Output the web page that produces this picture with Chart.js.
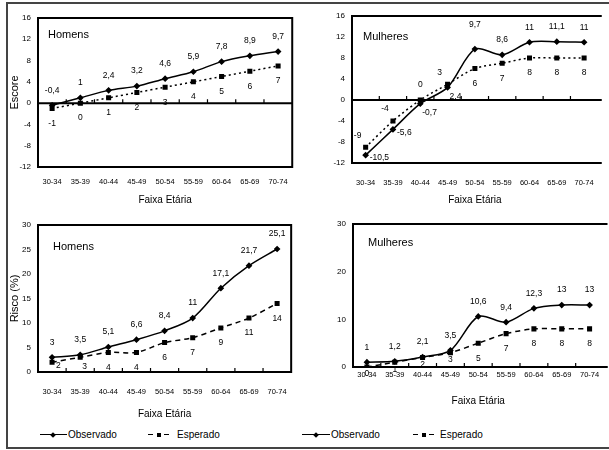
<!DOCTYPE html>
<html><head><meta charset="utf-8">
<script src="https://cdn.jsdelivr.net/npm/chart.js@4/dist/chart.umd.min.js"></script>
<style>
html,body{margin:0;padding:0;background:#fff;width:609px;height:450px;overflow:hidden;
 font-family:"Liberation Sans Narrow","Liberation Sans",Arial,sans-serif;}
#frame{position:absolute;left:6px;top:2px;width:603px;height:447px;box-sizing:border-box;border:2px solid #444;border-right:none;}
.panel{position:absolute;}
.ln{position:absolute;height:0;border-top:1.5px solid #000;}
.mk{position:absolute;width:4px;height:4px;background:#000;}
.lt{position:absolute;font-size:10px;line-height:14px;color:#000;white-space:nowrap;}
</style></head>
<body>
<div id="frame"></div>
<div class="panel" id="p1" style="left:6px;top:4px;width:292px;height:206px"><canvas id="c1"></canvas></div>
<div class="panel" id="p2" style="left:305px;top:4px;width:304px;height:206px"><canvas id="c2"></canvas></div>
<div class="panel" id="p3" style="left:6px;top:212px;width:296px;height:212px"><canvas id="c3"></canvas></div>
<div class="panel" id="p4" style="left:305px;top:212px;width:304px;height:212px"><canvas id="c4"></canvas></div>

<div class="ln" style="left:40px;top:434px;width:27px"></div>
<div class="mk" style="left:51px;top:433px;transform:rotate(45deg)"></div>
<div class="lt" style="left:68px;top:428px">Observado</div>
<div class="ln" style="left:148px;top:434px;width:5px"></div>
<div class="mk" style="left:157px;top:433px"></div>
<div class="ln" style="left:164px;top:434px;width:5px"></div>
<div class="lt" style="left:177px;top:428px">Esperado</div>

<div class="ln" style="left:302px;top:434px;width:28px"></div>
<div class="mk" style="left:314px;top:433px;transform:rotate(45deg)"></div>
<div class="lt" style="left:331px;top:428px">Observado</div>
<div class="ln" style="left:413px;top:434px;width:5px"></div>
<div class="mk" style="left:422px;top:433px"></div>
<div class="ln" style="left:429px;top:434px;width:5px"></div>
<div class="lt" style="left:440px;top:428px">Esperado</div>

<script>
// ---- data ----
const ageGroups = ['30-34','35-39','40-44','45-49','50-54','55-59','60-64','65-69','70-74'];
const homensEscoreObs   = [-0.4, 1, 2.4, 3.2, 4.6, 5.9, 7.8, 8.9, 9.7];
const homensEscoreEsp   = [-1, 0, 1, 2, 3, 4, 5, 6, 7];
const mulheresEscoreObs = [-10.5, -5.6, -0.7, 2.4, 9.7, 8.6, 11, 11.1, 11];
const mulheresEscoreEsp = [-9, -4, 0, 3, 6, 7, 8, 8, 8];
const homensRiscoObs    = [3, 3.5, 5.1, 6.6, 8.4, 11, 17.1, 21.7, 25.1];
const homensRiscoEsp    = [2, 3, 4, 4, 6, 7, 9, 11, 14];
const mulheresRiscoObs  = [1, 1.2, 2.1, 3.5, 10.6, 9.4, 12.3, 13, 13];
const mulheresRiscoEsp  = [0, 1, 2, 3, 5, 7, 8, 8, 8];
const seriesNames = ['Observado', 'Esperado'];
const panelNames = ['Homens', 'Mulheres', 'Homens', 'Mulheres'];
const yTitles = ['Escore', '', 'Risco (%)', ''];
const xTitle = 'Faixa Etária';

const FONT = '"Liberation Sans Narrow","Liberation Sans",Arial,sans-serif';
Chart.defaults.font.family = FONT;
Chart.defaults.color = '#000';

const decoPlugin = {
  id: 'deco',
  beforeDatasetsDraw(chart) {
    const o = chart.options.plugins.deco;
    const {ctx, chartArea: a, scales} = chart;
    const x = scales.x, y = scales.y;
    ctx.save();
    ctx.strokeStyle = '#000';
    ctx.lineWidth = 2;
    ctx.beginPath();
    if (o.closed) {
      ctx.rect(a.left, a.top, a.right - a.left, a.bottom - a.top);
    } else {
      ctx.moveTo(a.right + 4, a.top); ctx.lineTo(a.left, a.top);
      ctx.lineTo(a.left, a.bottom); ctx.lineTo(a.right + 4, a.bottom);
    }
    ctx.stroke();
    const y0 = y.getPixelForValue(0);
    ctx.beginPath();
    ctx.moveTo(a.left, y0); ctx.lineTo(a.right + (o.closed ? 0 : 4), y0);
    ctx.stroke();
    ctx.lineWidth = 1.2;
    const step = x.getPixelForValue(1) - x.getPixelForValue(0);
    ctx.beginPath();
    for (let i = 1; i < ageGroups.length; i++) {
      const bx = x.getPixelForValue(i) - step / 2;
      ctx.moveTo(bx, y0); ctx.lineTo(bx, y0 - 4);
    }
    ctx.stroke();
    ctx.fillStyle = '#000';
    ctx.font = '11px ' + FONT;
    ctx.textAlign = 'left'; ctx.textBaseline = 'middle';
    ctx.fillText(o.name, a.left + o.nameDx, a.top + o.nameDy);
    ctx.restore();
  },
  afterDatasetsDraw(chart) {
    const ctx = chart.ctx;
    ctx.save();
    ctx.fillStyle = '#000';
    ctx.font = '8.5px ' + FONT;
    ctx.textBaseline = 'middle';
    chart.data.datasets.forEach((ds, di) => {
      const meta = chart.getDatasetMeta(di);
      meta.data.forEach((pt, i) => {
        const txt = String(ds.data[i]).replace('.', ',');
        const code = ds.labelPos[i];
        let dx = 0, dy = 0, al = 'center';
        if (code === 't') dy = -15;
        else if (code === 'tt') dy = -24;
        else if (code === 'b') dy = 15;
        else if (code === 'bs') dy = 7;
        else if (code === 'tl') { dx = -8; dy = -12; }
        else if (code === 'r') { dx = 4; dy = 3; al = 'left'; }
        else if (code === 'br') { dx = 2; dy = 9; al = 'left'; }
        ctx.textAlign = al;
        ctx.fillText(txt, pt.x + dx, pt.y + dy);
      });
    });
    ctx.restore();
  }
};

function fill(n, c) { return Array(n).fill(c); }

function makeChart(id, p) {
  new Chart(document.getElementById(id), {
    type: 'line',
    data: {
      labels: ageGroups,
      datasets: [
        { label: seriesNames[0], data: p.obs, borderColor: '#000', backgroundColor: '#000',
          borderWidth: 1.5, pointStyle: 'rectRot', pointRadius: 2.3, tension: 0.3,
          labelPos: p.obsPos },
        { label: seriesNames[1], data: p.esp, borderColor: '#000', backgroundColor: '#000',
          borderWidth: 1.5, borderDash: p.dash, pointStyle: 'rect', pointRadius: 2.5, tension: 0.3,
          labelPos: p.espPos }
      ]
    },
    options: {
      responsive: true, maintainAspectRatio: false, animation: false,
      layout: { padding: { left: 0, right: p.padR, top: p.padT, bottom: 0 } },
      plugins: {
        legend: { display: false }, tooltip: { enabled: false },
        deco: { closed: p.closed, name: p.name, nameDx: p.nameDx, nameDy: p.nameDy }
      },
      scales: {
        x: {
          offset: true,
          grid: { display: false, drawTicks: false }, border: { display: false },
          ticks: { font: { size: 7.5 }, padding: p.xTickPad, maxRotation: 0, autoSkip: false, color: '#000' },
          title: { display: true, text: xTitle, font: { size: 10 }, color: '#000',
                   padding: { top: 2, bottom: p.xTitlePadB } },
          afterFit: s => { s.height = p.xHeight; }
        },
        y: {
          min: p.min, max: p.max,
          grid: { display: false, drawTicks: false }, border: { display: false },
          ticks: { stepSize: p.step, font: { size: 8 }, padding: 7, color: '#000' },
          title: { display: !!p.yTitle, text: p.yTitle, font: { size: 11 }, color: '#000',
                   padding: { top: 2, bottom: 2 } },
          afterFit: s => { s.width = p.yWidth; }
        }
      }
    },
    plugins: [decoPlugin]
  });
}

makeChart('c1', { obs: homensEscoreObs, esp: homensEscoreEsp, dash: [2, 3],
  obsPos: fill(9, 't'), espPos: fill(9, 'b'),
  min: -12, max: 16, step: 4, yTitle: yTitles[0], name: panelNames[0], nameDx: 10, nameDy: 17,
  closed: true, padR: 5, padT: 14, yWidth: 32, xHeight: 43, xTickPad: 10, xTitlePadB: 4 });

makeChart('c2', { obs: mulheresEscoreObs, esp: mulheresEscoreEsp, dash: [2, 3],
  obsPos: ['r','r','br','br','tt','t','t','t','t'], espPos: ['tl','tl','t','tl','b','b','b','b','b'],
  min: -12, max: 16, step: 4, yTitle: yTitles[1], name: panelNames[1], nameDx: 11, nameDy: 21,
  closed: false, padR: 0, padT: 12, yWidth: 47, xHeight: 47, xTickPad: 15, xTitlePadB: 4 });

makeChart('c3', { obs: homensRiscoObs, esp: homensRiscoEsp, dash: [5, 4],
  obsPos: fill(9, 't'), espPos: ['r','br','b','b','b','b','b','b','b'],
  min: 0, max: 30, step: 5, yTitle: yTitles[2], name: panelNames[2], nameDx: 15, nameDy: 22,
  closed: true, padR: 5, padT: 13, yWidth: 32, xHeight: 52, xTickPad: 15, xTitlePadB: 4 });

makeChart('c4', { obs: mulheresRiscoObs, esp: mulheresRiscoEsp, dash: [5, 4],
  obsPos: fill(9, 't'), espPos: ['bs','bs','bs','bs','b','b','b','b','b'],
  min: 0, max: 30, step: 10, yTitle: yTitles[3], name: panelNames[3], nameDx: 15, nameDy: 19,
  closed: false, padR: 0, padT: 12, yWidth: 48, xHeight: 57, xTickPad: 3, xTitlePadB: 17 });
</script>
</body></html>
